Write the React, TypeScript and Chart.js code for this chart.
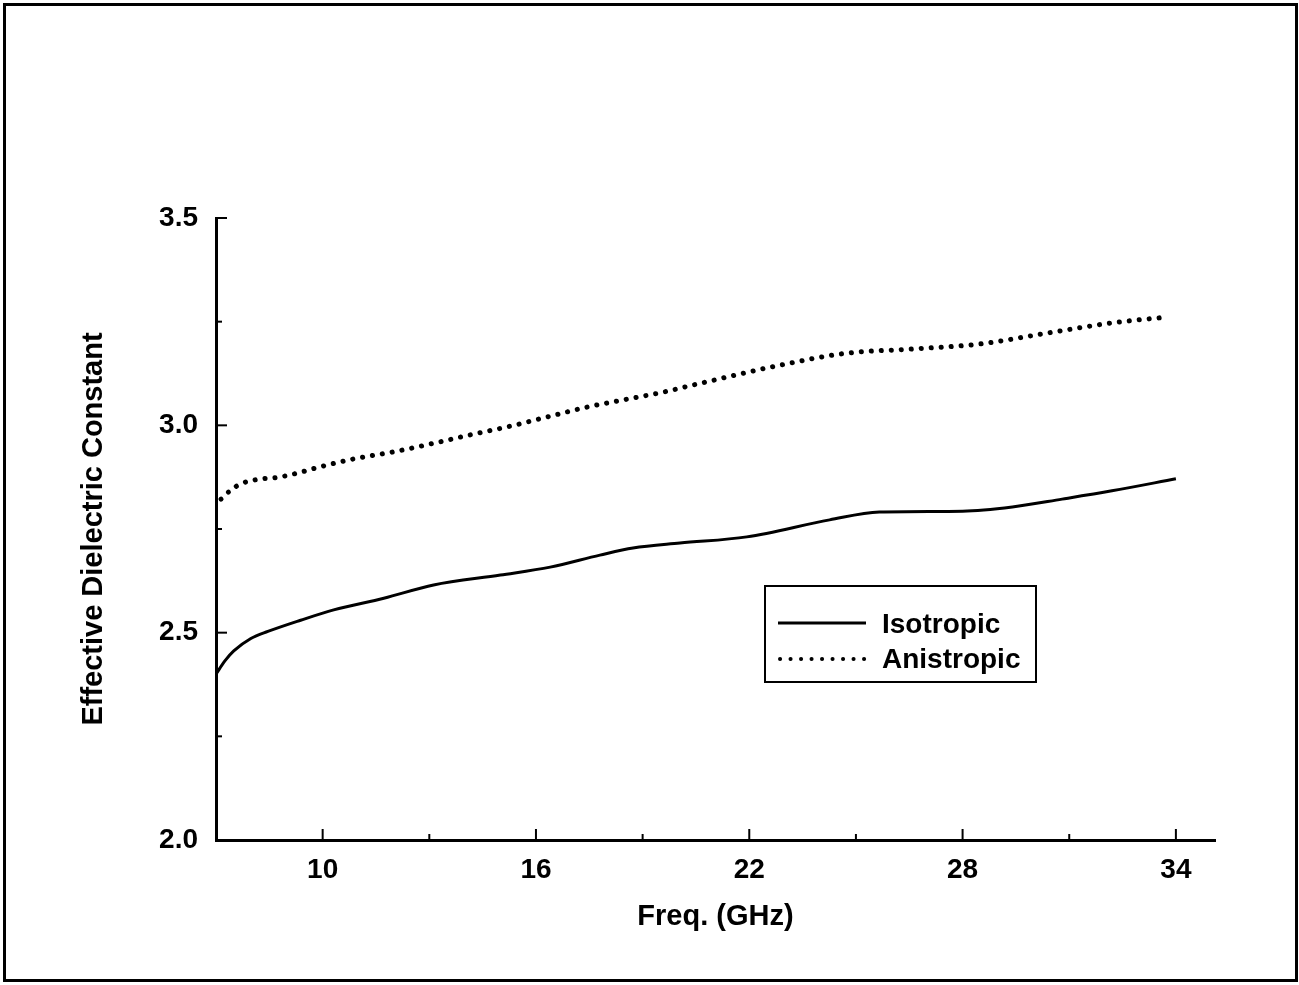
import React, { useEffect, useRef } from 'react';
import { Chart, registerables } from 'chart.js';

Chart.register(...registerables);

// ---- data ----
const isoFreq = [7.0, 7.25, 7.5, 7.98, 8.46, 9.38, 10.31, 11.72, 13.12, 15.0, 16.4, 17.8, 18.73, 20.05, 21.93, 24.26, 25.66, 28.0, 29.4, 30.8, 32.2, 34.0];
const isoValues = [2.40, 2.432, 2.456, 2.486, 2.503, 2.53, 2.555, 2.583, 2.615, 2.639, 2.658, 2.687, 2.704, 2.716, 2.731, 2.772, 2.791, 2.793, 2.803, 2.822, 2.842, 2.871];

const aniFreq = [7.14, 7.42, 7.70, 8.20, 8.77, 9.30, 9.80, 10.87, 11.99, 13.03, 14.15, 15.28, 16.40, 17.44, 18.56, 19.57, 20.41, 22.86, 24.74, 26.59, 28.47, 30.35, 32.20, 33.74];
const aniValues = [2.822, 2.844, 2.859, 2.870, 2.875, 2.885, 2.897, 2.919, 2.936, 2.955, 2.977, 2.998, 3.022, 3.044, 3.063, 3.080, 3.097, 3.145, 3.174, 3.184, 3.196, 3.222, 3.247, 3.261];

const seriesLabels = ['Isotropic', 'Anistropic'];

const xMajorTicks = [10, 16, 22, 28, 34];
const xTickLabels = ['10', '16', '22', '28', '34'];
const xMinorTicks = [13, 19, 25, 31];

const yMajorTicks = [2.0, 2.5, 3.0, 3.5];
const yTickLabels = ['2.0', '2.5', '3.0', '3.5'];
const yMinorTicks = [2.25, 2.75, 3.25];

const FONT_FAMILY = '"Liberation Sans", Arial, Helvetica, sans-serif';

const decorPlugin = {
  id: 'decor',
  afterDraw(chart: any, _args: any, opts: any) {
    const ctx: CanvasRenderingContext2D = chart.ctx;
    const xs = chart.scales.x;
    const ys = chart.scales.y;
    const area = chart.chartArea;
    ctx.save();
    ctx.strokeStyle = '#000';
    ctx.lineCap = 'butt';
    ctx.setLineDash([]);
    ctx.lineWidth = 2;
    const seg = (x1: number, y1: number, x2: number, y2: number) => {
      ctx.beginPath();
      ctx.moveTo(x1, y1);
      ctx.lineTo(x2, y2);
      ctx.stroke();
    };
    // inward tick marks
    xMajorTicks.forEach((v) => {
      const px = xs.getPixelForValue(v);
      seg(px, area.bottom, px, area.bottom - 11);
    });
    xMinorTicks.forEach((v) => {
      const px = xs.getPixelForValue(v);
      seg(px, area.bottom, px, area.bottom - 6);
    });
    yMajorTicks.forEach((v) => {
      const py = ys.getPixelForValue(v);
      seg(area.left, py, area.left + 11, py);
    });
    yMinorTicks.forEach((v) => {
      const py = ys.getPixelForValue(v);
      seg(area.left, py, area.left + 6, py);
    });

    // outer frame
    ctx.lineWidth = 3;
    ctx.strokeRect(4.5, 4.5, 1292, 976);

    // boxed legend
    const lg = opts;
    ctx.lineWidth = 2;
    ctx.strokeRect(lg.left, lg.top, lg.width, lg.height);
    ctx.font = `bold ${lg.fontSize}px ${FONT_FAMILY}`;
    ctx.fillStyle = '#000';
    ctx.textBaseline = 'alphabetic';
    ctx.textAlign = 'left';
    chart.data.datasets.forEach((ds: any, i: number) => {
      const ly = lg.sampleY[i];
      ctx.save();
      const dotted = ds.borderDash && ds.borderDash.length;
      ctx.lineWidth = dotted ? 4 : ds.borderWidth;
      ctx.lineCap = ds.borderCapStyle || 'butt';
      ctx.setLineDash(dotted ? [0.1, 10.4] : []);
      seg(lg.sampleX1 + (dotted ? 2 : 0), ly, lg.sampleX2, ly);
      ctx.restore();
      ctx.fillText(ds.label, lg.textX, lg.textY[i]);
    });
    ctx.restore();
  },
};

export default function App() {
  const canvasRef = useRef<HTMLCanvasElement | null>(null);

  useEffect(() => {
    if (!canvasRef.current) return;
    const tickFont = { family: FONT_FAMILY, size: 28, weight: 'bold' as const };
    const titleFont = { family: FONT_FAMILY, size: 29, weight: 'bold' as const };

    const chart = new Chart(canvasRef.current, {
      type: 'line',
      data: {
        datasets: [
          {
            label: seriesLabels[0],
            data: isoFreq.map((f, i) => ({ x: f, y: isoValues[i] })),
            borderColor: '#000',
            borderWidth: 3,
            pointRadius: 0,
            fill: false,
            cubicInterpolationMode: 'monotone',
          },
          {
            label: seriesLabels[1],
            data: aniFreq.map((f, i) => ({ x: f, y: aniValues[i] })),
            borderColor: '#000',
            borderWidth: 5,
            borderDash: [0.1, 9.9],
            borderCapStyle: 'round',
            pointRadius: 0,
            fill: false,
            cubicInterpolationMode: 'monotone',
          },
        ],
      },
      options: {
        responsive: false,
        animation: false,
        layout: { padding: { top: 218, right: 84, bottom: 0, left: 0 } },
        plugins: {
          legend: { display: false },
          tooltip: { enabled: false },
          decor: {
            left: 765,
            top: 586,
            width: 271,
            height: 96,
            sampleX1: 778,
            sampleX2: 866,
            sampleY: [623, 659],
            textX: 882,
            textY: [633, 668],
            fontSize: 28,
          },
        } as any,
        scales: {
          x: {
            type: 'linear',
            min: 7,
            max: 35.1,
            grid: { display: false, drawTicks: false },
            border: { display: true, color: '#000', width: 3 },
            afterBuildTicks: (s: any) => {
              s.ticks = [...xMajorTicks, ...xMinorTicks].sort((a, b) => a - b).map((v) => ({ value: v }));
            },
            ticks: {
              color: '#000',
              font: tickFont,
              padding: 13,
              maxRotation: 0,
              autoSkip: false,
              callback: (v: any) => {
                const i = xMajorTicks.indexOf(Number(v));
                return i >= 0 ? xTickLabels[i] : '';
              },
            },
            title: {
              display: true,
              text: 'Freq. (GHz)',
              color: '#000',
              font: titleFont,
              padding: { top: 0, bottom: 51 },
            },
            afterFit: (s: any) => {
              s.height = 145;
              s.paddingLeft = 0;
              s.paddingRight = 0;
            },
          },
          y: {
            type: 'linear',
            min: 2.0,
            max: 3.5,
            grid: { display: false, drawTicks: false },
            border: { display: true, color: '#000', width: 3 },
            afterBuildTicks: (s: any) => {
              s.ticks = [...yMajorTicks, ...yMinorTicks].sort((a, b) => a - b).map((v) => ({ value: v }));
            },
            ticks: {
              color: '#000',
              font: tickFont,
              padding: 18,
              autoSkip: false,
              callback: (v: any) => {
                const i = yMajorTicks.indexOf(Number(v));
                return i >= 0 ? yTickLabels[i] : '';
              },
            },
            title: {
              display: true,
              text: 'Effective Dielectric Constant',
              color: '#000',
              font: titleFont,
              padding: { top: 77, bottom: 0 },
            },
            afterFit: (s: any) => {
              s.width = 216;
              s.paddingTop = 0;
              s.paddingBottom = 0;
            },
          },
        },
      } as any,
      plugins: [decorPlugin as any],
    });
    return () => chart.destroy();
  }, []);

  return (
    <div style={{ position: 'absolute', left: 0, top: 0, width: 1299, height: 985, background: '#fff' }}>
      <canvas ref={canvasRef} width={1299} height={985} style={{ display: 'block' }} />
    </div>
  );
}
